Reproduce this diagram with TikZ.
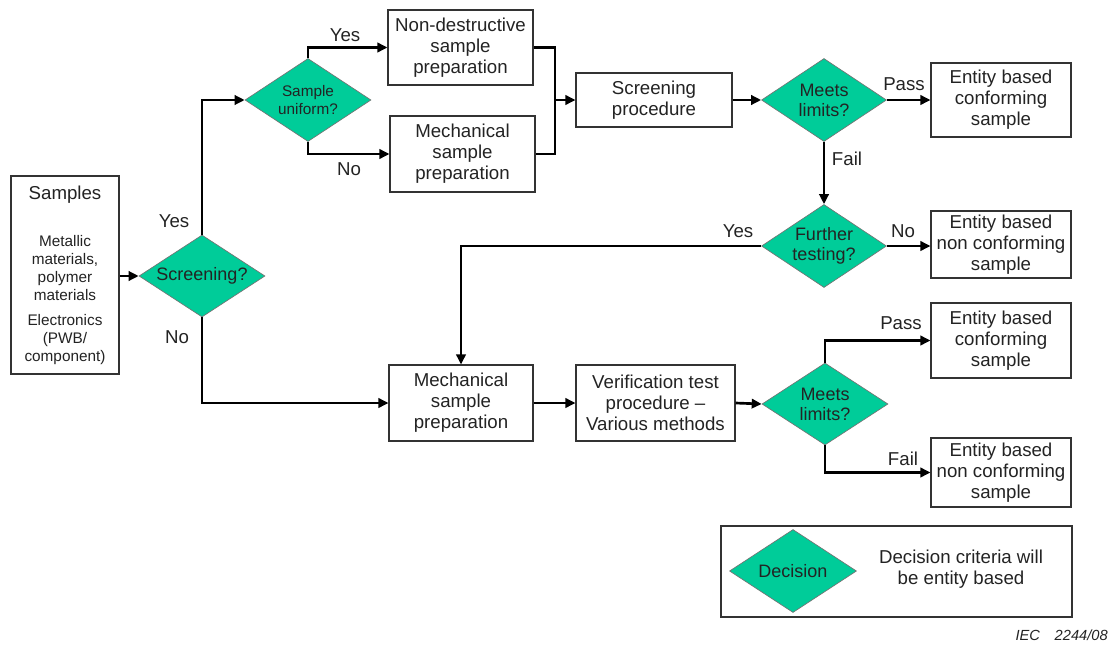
\documentclass[tikz,border=0pt]{standalone}
\usepackage{fontspec}
\setmainfont{Liberation Sans}
\usetikzlibrary{shapes.geometric,arrows.meta}
\definecolor{dgreen}{RGB}{0,204,153}
\definecolor{txt}{RGB}{35,35,35}
\begin{document}
\begin{tikzpicture}[x=0.75pt,y=-0.75pt,
  wh/.style 2 args={minimum width={#1*0.75pt},minimum height={#2*0.75pt}},
  box/.style={draw=black!80,line width=0.8pt,fill=white,align=center,inner sep=0pt,text=txt,font=\fontsize{14}{15.75}\selectfont},
  dec/.style={diamond,aspect=1.52,draw=black!55,line width=0.5pt,fill=dgreen,inner sep=0pt,align=center,text=txt,font=\fontsize{13.5}{15}\selectfont},
  arr/.style={line width=2pt,-{Triangle[length=7.5pt,width=7pt]}},
  ln/.style={line width=2pt},
  lbl/.style={text=txt,font=\fontsize{14}{15.75}\selectfont,inner sep=0pt},
  small/.style={text=txt,align=center,inner sep=0pt,font=\fontsize{11.5}{13.5}\selectfont},
]
\useasboundingbox (0,0) rectangle (1110,646);

% Samples box
\node[box,wh={108}{198}] (samples) at (65,275) {};
\node[lbl] (samplesT) at (65,195) {Samples};
\node[small] (samplesM) at (65,268) {Metallic\\materials,\\polymer\\materials};
\node[small] (samplesE) at (65,340) {Electronics\\(PWB/\\component)};

% decisions
\node[dec,wh={126}{82}] (scr) at (202,276) {Screening?};
\node[dec,wh={126}{83},font=\fontsize{11.5}{13.5}\selectfont] (su) at (308,100) {Sample\\uniform?};
\node[dec,wh={125}{83}] (ml1) at (824,100) {Meets\\limits?};
\node[dec,wh={125}{83}] (ft) at (824,246) {Further\\testing?};
\node[dec,wh={126}{82}] (ml2) at (825,404) {Meets\\limits?};

% boxes
\node[box,wh={145}{75}] (nd) at (460.5,47.5) {Non-destructive\\sample\\preparation};
\node[box,wh={145}{76}] (mech1) at (462.5,154) {Mechanical\\sample\\preparation};
\node[box,wh={156}{54}] (sp) at (654,100) {Screening\\procedure};
\node[box,wh={140}{74}] (ec1) at (1001,100) {Entity based\\conforming\\sample};
\node[box,wh={140}{67}] (enc1) at (1001,244.5) {Entity based\\non conforming\\sample};
\node[box,wh={144}{76}] (mech2) at (461,403) {Mechanical\\sample\\preparation};
\node[box,wh={159}{76}] (ver) at (655.5,403) {Verification test\\procedure --\\Various methods};
\node[box,wh={140}{75}] (ec2) at (1001,340.5) {Entity based\\conforming\\sample};
\node[box,wh={140}{69}] (enc2) at (1001,472.5) {Entity based\\non conforming\\sample};

% connectors
\draw[arr] (samples.east |- scr.west) -- (scr.west);
\draw[arr] (scr.north) |- (su.west);
\draw[arr] (scr.south) |- (mech2.west);
\draw[arr] (su.north) |- (nd.west);
\draw[arr] (su.south) |- (mech1.west);
\coordinate (mg) at (555,100);
\draw[ln] (nd.east) -| (mg) |- (mech1.east);
\draw[arr] (mg) -- (sp.west);
\draw[arr] (sp.east) -- (ml1.west);
\draw[arr] (ml1.east) -- (ec1.west);
\draw[arr] (ml1.south) -- (ft.north);
\draw[arr] (ft.east) -- (ft.east -| enc1.west);
\draw[arr] (ft.west) -| (mech2.north);
\draw[arr] (mech2.east) -- (ver.west);
\draw[arr] (ver.east) -- (ml2.west);
\draw[arr] (ml2.north) |- (ec2.west);
\draw[arr] (ml2.south) |- (enc2.west);

% labels
\node[lbl] (l1) at (174,221) {Yes};
\node[lbl] (l2) at (177,337) {No};
\node[lbl] (l3) at (345,35) {Yes};
\node[lbl] (l4) at (349,169) {No};
\node[lbl] (l5) at (904,84) {Pass};
\node[lbl] (l6) at (847,159) {Fail};
\node[lbl] (l7) at (738,231) {Yes};
\node[lbl] (l8) at (903,231) {No};
\node[lbl] (l9) at (901,323) {Pass};
\node[lbl] (l10) at (903,459) {Fail};

% legend
\node[box,wh={351}{91}] (legend) at (896.5,571.5) {};
\node[dec,wh={127}{83}] (decl) at (793,571) {Decision};
\node[lbl,align=center] (legT) at (961,569) {Decision criteria will\\be entity based};

\node[anchor=east,inner sep=0pt,text=txt,font=\itshape\fontsize{11}{12}\selectfont] (iec) at (1108,635) {IEC\hspace{11pt}2244/08};
\end{tikzpicture}
\end{document}
